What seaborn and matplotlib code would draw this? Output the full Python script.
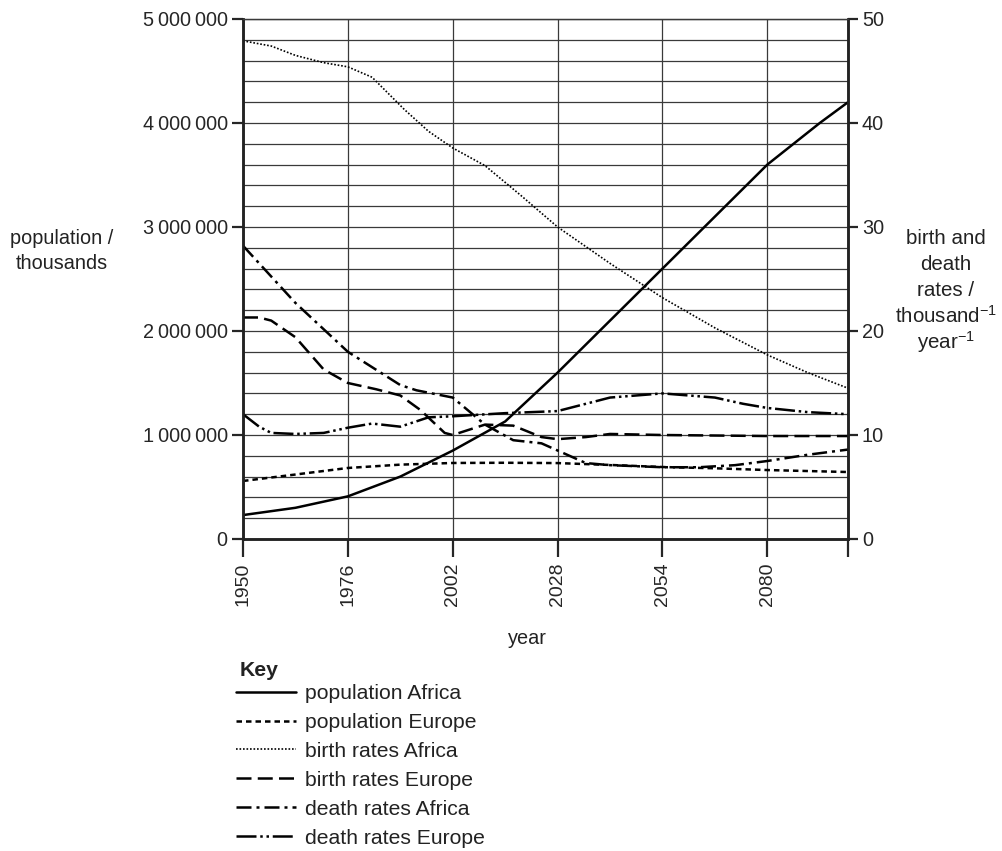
import pandas as pd
import matplotlib.pyplot as plt
import seaborn as sns
from matplotlib.ticker import FuncFormatter

# ── DATA ───────────────────────────────────────────────
years_pop_af = [1950, 1963, 1976, 1989, 2002, 2015, 2028, 2041, 2054, 2067, 2080, 2093, 2100]
pop_africa = [230000, 300000, 410000, 600000, 850000, 1130000, 1600000, 2100000,
              2600000, 3100000, 3600000, 4000000, 4200000]

years_pop_eu = [1950, 1963, 1976, 1989, 2002, 2015, 2028, 2041, 2054, 2067, 2080, 2100]
pop_europe = [558000, 620000, 683000, 715000, 731000, 733000, 730000, 712000,
              692000, 680000, 663000, 644000]

years_birth_af = [1950, 1957, 1963, 1970, 1976, 1982, 1990, 1996, 2002, 2010,
                  2019, 2028, 2041, 2054, 2067, 2080, 2090, 2100]
birth_africa = [47.9, 47.4, 46.5, 45.8, 45.4, 44.4, 41.3, 39.2, 37.6, 35.9,
                33.0, 30.0, 26.5, 23.2, 20.3, 17.7, 16.0, 14.5]

years_birth_eu = [1950, 1954, 1957, 1963, 1970, 1976, 1983, 1989, 1994, 2000,
                  2002, 2010, 2017, 2024, 2028, 2035, 2041, 2054, 2080, 2100]
birth_europe = [21.3, 21.3, 21.0, 19.4, 16.3, 15.0, 14.4, 13.8, 12.4, 10.2,
                10.0, 11.0, 10.9, 9.8, 9.6, 9.8, 10.1, 10.0, 9.9, 9.9]

years_death_af = [1950, 1963, 1976, 1989, 1993, 2002, 2010, 2017, 2024, 2035,
                  2041, 2054, 2063, 2072, 2080, 2090, 2100]
death_africa = [28.2, 22.7, 18.0, 14.8, 14.3, 13.6, 11.0, 9.5, 9.2, 7.3,
                7.1, 6.9, 6.9, 7.1, 7.5, 8.1, 8.6]

years_death_eu = [1950, 1954, 1957, 1963, 1970, 1976, 1982, 1989, 1996, 2002,
                  2015, 2028, 2035, 2041, 2054, 2067, 2074, 2080, 2090, 2100]
death_europe = [12.0, 10.8, 10.2, 10.1, 10.2, 10.7, 11.1, 10.8, 11.7, 11.8,
                12.1, 12.3, 13.0, 13.6, 14.0, 13.6, 13.0, 12.6, 12.2, 12.0]

year_ticks = [1950, 1976, 2002, 2028, 2054, 2080]
right_label = ['birth and', 'death', 'rates /', 'thousand$^{-1}$', 'year$^{-1}$']

# ── STYLE ──────────────────────────────────────────────
sns.set_style('white')
plt.rcParams['font.family'] = ['Liberation Sans', 'DejaVu Sans']
plt.rcParams['mathtext.fontset'] = 'custom'
plt.rcParams['mathtext.rm'] = 'Liberation Sans'
plt.rcParams['mathtext.default'] = 'regular'
plt.rcParams['text.color'] = '#222222'

fig = plt.figure(figsize=(10.02, 8.51), dpi=100)
ax = fig.add_axes([243/1002, 1 - 539/851, 605/1002, 520/851])
ax2 = ax.twinx()

line_kw = dict(color='black', errorbar=None)

# ── POPULATION (left axis) ─────────────────────────────
sns.lineplot(x=years_pop_af, y=pop_africa, ax=ax, label='population Africa',
             linewidth=1.8, linestyle='-', **line_kw)
sns.lineplot(x=years_pop_eu, y=pop_europe, ax=ax, label='population Europe',
             linewidth=1.8, linestyle=(0, (2.2, 1.6)), **line_kw)

# ── RATES (right axis) ─────────────────────────────────
sns.lineplot(x=years_birth_af, y=birth_africa, ax=ax2, label='birth rates Africa',
             linewidth=1.2, linestyle=(0, (1, 1.1)), **line_kw)
sns.lineplot(x=years_birth_eu, y=birth_europe, ax=ax2, label='birth rates Europe',
             linewidth=1.8, linestyle=(0, (6, 2.5)), **line_kw)
sns.lineplot(x=years_death_af, y=death_africa, ax=ax2, label='death rates Africa',
             linewidth=1.8, linestyle=(0, (6, 2, 1.2, 2)), **line_kw)
sns.lineplot(x=years_death_eu, y=death_europe, ax=ax2, label='death rates Europe',
             linewidth=1.8, linestyle=(0, (8, 1.5, 1, 1.5, 1, 1.5)), **line_kw)

# ── AXES ───────────────────────────────────────────────
ax.set_xlim(1950, 2100)
ax.set_ylim(0, 5000000)
ax2.set_ylim(0, 50)

ax.set_yticks(range(0, 5000001, 1000000))
ax.set_yticks(range(0, 5000001, 200000), minor=True)
ax.yaxis.set_major_formatter(FuncFormatter(
    lambda v, p: '0' if v == 0 else f'{int(v):,}'.replace(',', '\u2009')))
ax.set_xticks(year_ticks + [2100])
ax.set_xticklabels([str(y) for y in year_ticks] + [''], rotation=90)
ax2.set_yticks(range(0, 51, 10))

ax.grid(True, which='both', axis='y', color='#3a3a3a', linewidth=0.9)
ax.grid(True, which='major', axis='x', color='#3a3a3a', linewidth=0.9)
ax.set_axisbelow(True)

ax.tick_params(axis='y', which='major', direction='out', length=8, width=1.6,
               labelsize=14.3, pad=3, left=True)
ax.tick_params(axis='y', which='minor', length=0)
ax.tick_params(axis='x', direction='out', length=13, width=1.6, labelsize=14,
               pad=4, bottom=True)
ax2.tick_params(axis='y', direction='out', length=7, width=1.6, labelsize=14.3,
                pad=3, right=True)

for a in (ax, ax2):
    for side in ('left', 'bottom', 'right'):
        a.spines[side].set_color('#222222')
        a.spines[side].set_linewidth(1.8)
    a.spines['top'].set_color('#3a3a3a')
    a.spines['top'].set_linewidth(0.9)

ax.set_xlabel('')
ax.set_ylabel('')
ax2.set_ylabel('')

fig.text(62/1002, 1 - 251/851, 'population /\nthousands', ha='center', va='center',
         fontsize=14.3, linespacing=1.45)
for i, txt in enumerate(right_label):
    fig.text(946/1002, 1 - (238 + 26 * i)/851, txt, ha='center', va='center',
             fontsize=14.8)
fig.text(527/1002, 1 - 638/851, 'year', ha='center', va='center', fontsize=14.3)

# ── KEY ────────────────────────────────────────────────
h1, l1 = ax.get_legend_handles_labels()
h2, l2 = ax2.get_legend_handles_labels()
ax.get_legend().remove()
ax2.get_legend().remove()
fig.text(240/1002, 1 - 670/851, 'Key', ha='left', va='center', fontsize=15.2,
         fontweight='bold')
fig.legend(h1 + h2, l1 + l2, loc='upper left',
           bbox_to_anchor=(236/1002, 1 - 684/851), frameon=False,
           fontsize=15.2, handlelength=2.85, handletextpad=0.43, labelspacing=0.47,
           borderpad=0, borderaxespad=0)

plt.savefig('out.png', dpi=100)
